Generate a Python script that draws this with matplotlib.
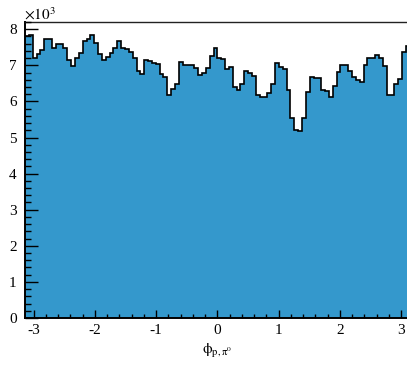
import numpy as np
import matplotlib
matplotlib.use("Agg")
import matplotlib.pyplot as plt
from matplotlib.ticker import MultipleLocator

plt.rcParams['font.family'] = ['Liberation Serif', 'DejaVu Serif']
plt.rcParams['mathtext.fontset'] = 'stix'
plt.rcParams['axes.unicode_minus'] = False

# histogram contents (in units of 10^3), 100 bins from -pi to pi
counts_k = [7.80, 7.85, 7.21, 7.32, 7.43, 7.74, 7.74, 7.49, 7.60, 7.59,
            7.49, 7.16, 6.98, 7.19, 7.33, 7.68, 7.72, 7.83, 7.61, 7.31,
            7.15, 7.24, 7.35, 7.49, 7.68, 7.49, 7.44, 7.36, 7.21, 6.84,
            6.75, 7.15, 7.11, 7.07, 7.03, 6.75, 6.69, 6.17, 6.35, 6.49,
            7.09, 7.00, 7.02, 7.02, 6.92, 6.74, 6.80, 6.93, 7.26, 7.49,
            7.21, 7.17, 6.89, 6.95, 6.41, 6.33, 6.49, 6.84, 6.78, 6.70,
            6.19, 6.12, 6.12, 6.22, 6.47, 7.07, 6.95, 6.89, 6.33, 5.55,
            5.22, 5.17, 5.53, 6.26, 6.69, 6.66, 6.65, 6.33, 6.29, 6.13,
            6.43, 6.81, 7.01, 7.01, 6.84, 6.68, 6.58, 6.55, 7.01, 7.19,
            7.21, 7.28, 7.19, 6.98, 6.17, 6.17, 6.47, 6.61, 7.38, 7.54]
x_min, x_max = -np.pi, np.pi
n_bins = len(counts_k)
y_max = 8.2
x_label = r'$\mathrm{\phi_{p,\pi^{0}}}$'
y_scale_label = r'$\times10^{3}$'

edges = np.linspace(x_min, x_max, n_bins + 1)

W, H = 407, 365
fig = plt.figure(figsize=(W / 100, H / 100), dpi=100)
ax = fig.add_axes([25 / W, 47 / H, 384.7 / W, 296 / H])

fill_color = '#3498cc'
ax.stairs(counts_k, edges, fill=True, color=fill_color, zorder=1)
ax.stairs(counts_k, edges, baseline=None, color='black', lw=1.2, zorder=2)

ax.set_xlim(x_min, x_max)
ax.set_ylim(0, y_max)

ax.xaxis.set_major_locator(MultipleLocator(1))
ax.xaxis.set_minor_locator(MultipleLocator(0.2))
ax.yaxis.set_major_locator(MultipleLocator(1))
ax.yaxis.set_minor_locator(MultipleLocator(0.2))

ax.set_axisbelow(False)
ax.tick_params(axis='both', which='both', direction='in', top=False, right=False,
               width=1.0, color='black', labelsize=11)
ax.tick_params(axis='x', which='major', length=6, pad=4)
ax.tick_params(axis='x', which='minor', length=3)
ax.tick_params(axis='y', which='major', length=9, pad=6)
ax.tick_params(axis='y', which='minor', length=4.5)

for s in ['left', 'bottom']:
    ax.spines[s].set_linewidth(1.4)
    ax.spines[s].set_color('black')
ax.spines['top'].set_linewidth(1.0)
ax.spines['top'].set_color('#222222')
ax.spines['right'].set_visible(False)

ax.set_xlabel(x_label, fontsize=11, labelpad=4)
fig.text(24 / W, 1 - 20 / H, y_scale_label, fontsize=11, ha='left', va='baseline')

fig.savefig('out.png', dpi=100)
